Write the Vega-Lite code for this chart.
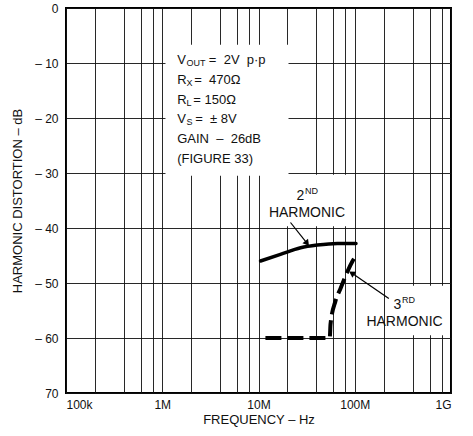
{
  "$schema": "https://vega.github.io/schema/vega-lite/v6.json",
  "width": 385,
  "height": 385,
  "autosize": {"type": "none"},
  "padding": {"left": 66, "top": 8, "right": 22, "bottom": 43},
  "background": "white",
  "config": {
    "font": "Liberation Sans",
    "view": {"stroke": "black", "strokeWidth": 2},
    "axis": {
      "domain": false,
      "ticks": false,
      "grid": true,
      "gridColor": "#111",
      "gridWidth": 1,
      "gridOpacity": 0.9,
      "labelFont": "Liberation Sans",
      "labelFontSize": 12,
      "labelColor": "#111",
      "titleFont": "Liberation Sans",
      "titleFontSize": 13,
      "titleFontWeight": "normal",
      "titleColor": "#111",
      "labelOverlap": false,
      "labelBound": false
    }
  },
  "datasets": {
    "h2": [
      {"f": 10500000, "db": -46.0},
      {"f": 16900000, "db": -44.8},
      {"f": 27400000, "db": -43.6},
      {"f": 40800000, "db": -43.1},
      {"f": 66000000, "db": -42.8},
      {"f": 103000000, "db": -42.8}
    ],
    "h3": [
      {"f": 11800000, "db": -60.0},
      {"f": 55000000, "db": -60.0},
      {"f": 56000000, "db": -57.5},
      {"f": 63000000, "db": -53.3},
      {"f": 71500000, "db": -50.9},
      {"f": 84000000, "db": -47.9},
      {"f": 95000000, "db": -46.0},
      {"f": 105000000, "db": -44.8}
    ],
    "boxes": [
      {"f1": 1080000, "f2": 20500000, "d1": -6.7, "d2": -30.5},
      {"f1": 10500000, "f2": 96000000, "d1": -30.3, "d2": -39.7},
      {"f1": 210000000, "f2": 960000000, "d1": -50.5, "d2": -59.5}
    ],
    "params": [
      {"f": 1430000, "db": -9.45, "t": "V"},
      {"f": 3050000, "db": -9.45, "t": "=\u00a0\u00a02V\u00a0\u00a0p·p"},
      {"f": 1430000, "db": -13.1, "t": "R"},
      {"f": 2150000, "db": -13.1, "t": "=\u00a0\u00a0470Ω"},
      {"f": 1430000, "db": -16.7, "t": "R"},
      {"f": 2100000, "db": -16.7, "t": "=\u00a0150Ω"},
      {"f": 1430000, "db": -20.2, "t": "V"},
      {"f": 2200000, "db": -20.2, "t": "=\u00a0\u00a0±\u00a08V"},
      {"f": 1430000, "db": -23.8, "t": "GAIN\u00a0\u00a0–\u00a0\u00a026dB"},
      {"f": 1430000, "db": -27.5, "t": "(FIGURE 33)"}
    ],
    "subs": [
      {"f": 1790000, "db": -10.0, "t": "OUT"},
      {"f": 1790000, "db": -13.6, "t": "X"},
      {"f": 1790000, "db": -17.2, "t": "L"},
      {"f": 1790000, "db": -20.7, "t": "S"}
    ],
    "labels": [
      {"f": 31900000, "db": -37.2, "t": "HARMONIC"},
      {"f": 329000000, "db": -57.1, "t": "HARMONIC"},
      {"f": 27300000, "db": -34.2, "t": "2"},
      {"f": 278000000, "db": -54.0, "t": "3"}
    ],
    "sups": [
      {"f": 30400000, "db": -33.3, "t": "ND"},
      {"f": 310000000, "db": -53.1, "t": "RD"}
    ],
    "arrows": [
      {"f": 21500000, "db": -39.0, "f2": 32000000, "db2": -42.8, "ang": 142},
      {"f": 226000000, "db": -52.8, "f2": 93000000, "db2": -48.2, "ang": 302}
    ]
  },
  "layer": [
    {
      "data": {"name": "boxes"},
      "mark": {"type": "rect", "fill": "white", "stroke": null},
      "encoding": {
        "x": {
          "field": "f1", "type": "quantitative",
          "scale": {"type": "log", "domain": [100000, 1000000000], "nice": false},
          "axis": {
            "values": [100000, 200000, 400000, 600000, 800000, 1000000, 2000000, 4000000, 6000000, 8000000, 10000000, 20000000, 40000000, 60000000, 80000000, 100000000, 200000000, 400000000, 600000000, 800000000, 1000000000],
            "labelExpr": "datum.value == 100000 ? '100k' : datum.value == 1000000 ? '1M' : datum.value == 10000000 ? '10M' : datum.value == 100000000 ? '100M' : datum.value == 1000000000 ? '1G' : ''",
            "labelPadding": 6,
            "title": "FREQUENCY – Hz",
            "titlePadding": 3
          }
        },
        "x2": {"field": "f2"},
        "y": {
          "field": "d1", "type": "quantitative",
          "scale": {"domain": [-70, 0], "nice": false, "zero": false},
          "axis": {
            "values": [-70, -60, -50, -40, -30, -20, -10, 0],
            "labelExpr": "datum.value == 0 ? '0' : datum.value == -70 ? '70' : '– ' + abs(datum.value)",
            "labelPadding": 8,
            "title": "HARMONIC DISTORTION – dB",
            "titlePadding": 10
          }
        },
        "y2": {"field": "d2"}
      }
    },
    {
      "data": {"name": "h2"},
      "mark": {"type": "line", "color": "black", "strokeWidth": 3.5, "strokeCap": "round", "interpolate": "monotone"},
      "encoding": {
        "x": {"field": "f", "type": "quantitative"},
        "y": {"field": "db", "type": "quantitative"}
      }
    },
    {
      "data": {"name": "h3"},
      "mark": {"type": "line", "color": "black", "strokeWidth": 4, "strokeDash": [16, 6], "interpolate": "monotone"},
      "encoding": {
        "x": {"field": "f", "type": "quantitative"},
        "y": {"field": "db", "type": "quantitative"}
      }
    },
    {
      "data": {"name": "arrows"},
      "mark": {"type": "rule", "color": "black", "strokeWidth": 1.2},
      "encoding": {
        "x": {"field": "f", "type": "quantitative"},
        "y": {"field": "db", "type": "quantitative"},
        "x2": {"field": "f2"},
        "y2": {"field": "db2"}
      }
    },
    {
      "data": {"name": "arrows"},
      "mark": {"type": "point", "shape": "triangle-up", "filled": true, "color": "black", "size": 50, "opacity": 1},
      "encoding": {
        "x": {"field": "f2", "type": "quantitative"},
        "y": {"field": "db2", "type": "quantitative"},
        "angle": {"field": "ang", "type": "quantitative", "scale": null}
      }
    },
    {
      "data": {"name": "params"},
      "mark": {"type": "text", "align": "left", "baseline": "middle", "fontSize": 13, "color": "#111"},
      "encoding": {
        "x": {"field": "f", "type": "quantitative"},
        "y": {"field": "db", "type": "quantitative"},
        "text": {"field": "t"}
      }
    },
    {
      "data": {"name": "subs"},
      "mark": {"type": "text", "align": "left", "baseline": "middle", "fontSize": 9, "color": "#111"},
      "encoding": {
        "x": {"field": "f", "type": "quantitative"},
        "y": {"field": "db", "type": "quantitative"},
        "text": {"field": "t"}
      }
    },
    {
      "data": {"name": "labels"},
      "mark": {"type": "text", "align": "center", "baseline": "middle", "fontSize": 14, "color": "#111"},
      "encoding": {
        "x": {"field": "f", "type": "quantitative"},
        "y": {"field": "db", "type": "quantitative"},
        "text": {"field": "t"}
      }
    },
    {
      "data": {"name": "sups"},
      "mark": {"type": "text", "align": "left", "baseline": "middle", "fontSize": 9, "color": "#111"},
      "encoding": {
        "x": {"field": "f", "type": "quantitative"},
        "y": {"field": "db", "type": "quantitative"},
        "text": {"field": "t"}
      }
    }
  ]
}
